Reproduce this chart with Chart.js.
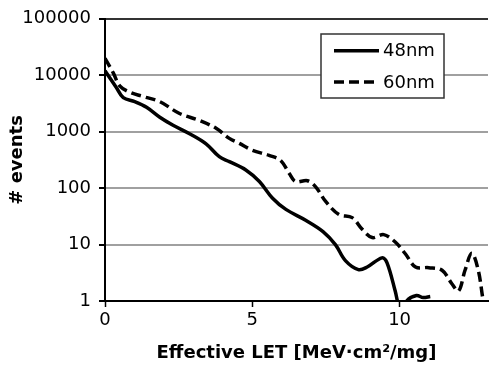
<!DOCTYPE html>
<html>
<head>
<meta charset="utf-8">
<script src="https://cdn.jsdelivr.net/npm/chart.js@4.4.1/dist/chart.umd.min.js"></script>
<style>
  html, body { margin: 0; padding: 0; background: #fff; }
  #wrap { width: 489px; height: 367px; }
</style>
</head>
<body>
<div id="wrap"><canvas id="c" width="489" height="367"></canvas></div>
<script>
// ---- data ----
const seriesLabels = ['48nm', '60nm'];
const let48 = [0, 0.39, 0.62, 1.01, 1.41, 1.86, 2.31, 2.87, 3.43, 3.88, 4.22, 4.78, 5.24, 5.68, 6.14, 6.81, 7.4, 7.82, 8.16, 8.6, 8.9, 9.4, 9.57, 9.85, 9.95, 10.1, 10.24, 10.57, 10.8, 11.04];
const events48 = [12000, 6000, 4000, 3400, 2700, 1800, 1300, 920, 610, 360, 295, 210, 131, 67, 42, 27, 17, 10, 5.2, 3.6, 4.0, 5.8, 4.8, 1.5, 0.9, 0.6, 1.0, 1.25, 1.15, 1.2];
const let60 = [0, 0.28, 0.5, 0.84, 1.29, 1.86, 2.53, 3.21, 3.77, 4.22, 4.56, 5.0, 5.57, 5.96, 6.25, 6.47, 6.87, 7.15, 7.49, 7.94, 8.39, 8.73, 9.07, 9.46, 9.86, 10.2, 10.54, 10.99, 11.44, 11.78, 12.0, 12.22, 12.45, 12.67, 12.84, 12.95];
const events60 = [20000, 11000, 6500, 5000, 4200, 3400, 2100, 1580, 1150, 760, 620, 470, 380, 310, 183, 130, 135, 105, 58, 34, 30, 18.6, 13.3, 15, 11, 6.8, 4, 3.9, 3.5, 2, 1.5, 3.5, 7, 3.5, 1, 0.6];
const xTicks = [0, 5, 10];
const yTicks = [1, 10, 100, 1000, 10000, 100000];
const xTitle = 'Effective LET [MeV·cm²/mg]';
const yTitle = '# events';

const FONT = '"DejaVu Sans", sans-serif';
Chart.defaults.font.family = FONT;
Chart.defaults.font.size = 18;
Chart.defaults.color = '#000';

const toPts = (xs, ys) => xs.map((x, i) => ({ x: x, y: ys[i] }));

const legendPlugin = {
  id: 'boxLegend',
  afterDatasetsDraw(chart) {
    const ctx = chart.ctx;
    const bx = 321, by = 34, bw = 123, bh = 64;
    ctx.save();
    ctx.fillStyle = '#fff';
    ctx.fillRect(bx, by, bw, bh);
    ctx.strokeStyle = '#333';
    ctx.lineWidth = 1.5;
    ctx.strokeRect(bx, by, bw, bh);
    chart.data.datasets.forEach((ds, i) => {
      const y = 50.7 + i * 31.3;
      ctx.beginPath();
      ctx.setLineDash(ds.borderDash || []);
      ctx.lineWidth = ds.borderWidth;
      ctx.strokeStyle = ds.borderColor;
      ctx.moveTo(334, y);
      ctx.lineTo(i === 0 ? 379 : 376, y);
      ctx.stroke();
      ctx.setLineDash([]);
      ctx.fillStyle = '#000';
      ctx.font = '18px ' + FONT;
      ctx.textBaseline = 'middle';
      ctx.textAlign = 'left';
      ctx.fillText(ds.label, 383, y + 1);
    });
    ctx.restore();
  }
};

new Chart(document.getElementById('c'), {
  type: 'line',
  data: {
    datasets: [
      {
        label: seriesLabels[0],
        data: toPts(let48, events48),
        borderColor: '#000',
        borderWidth: 3.5,
        pointRadius: 0,
        tension: 0.35,
        fill: false
      },
      {
        label: seriesLabels[1],
        data: toPts(let60, events60),
        borderColor: '#000',
        borderWidth: 3.5,
        borderDash: [10, 5],
        pointRadius: 0,
        tension: 0.35,
        fill: false
      }
    ]
  },
  options: {
    responsive: false,
    devicePixelRatio: 1,
    animation: false,
    layout: { padding: { top: 16, right: 1, left: 0, bottom: 0 } },
    plugins: { legend: { display: false }, tooltip: { enabled: false } },
    scales: {
      x: {
        type: 'linear',
        min: 0,
        max: 13,
        afterBuildTicks: (s) => { s.ticks = xTicks.map(v => ({ value: v })); },
        afterFit: (s) => { s.height = 66; },
        grid: { drawOnChartArea: false, drawTicks: true, tickLength: 6, tickColor: '#000', tickWidth: 1.5 },
        border: { display: true, color: '#000', width: 2 },
        ticks: { color: '#000', font: { family: FONT, size: 18 }, padding: 3, maxRotation: 0 },
        title: { display: true, text: xTitle, color: '#000', font: { family: FONT, size: 18, weight: 'bold' }, padding: { top: 0, bottom: 3 } }
      },
      y: {
        type: 'logarithmic',
        min: 1,
        max: 100000,
        afterBuildTicks: (s) => { s.ticks = yTicks.map(v => ({ value: v })); },
        afterFit: (s) => { s.width = 105; },
        grid: {
          color: (c) => (c.tick && c.tick.value === 100000) ? '#333' : '#a0a0a0',
          lineWidth: 2,
          drawTicks: true,
          tickLength: 6,
          tickColor: '#000'
        },
        border: { display: true, color: '#000', width: 2 },
        ticks: { color: '#000', font: { family: FONT, size: 18 }, padding: 8, callback: (v) => String(v) },
        title: { display: true, text: yTitle, color: '#000', font: { family: FONT, size: 18, weight: 'bold' }, padding: { top: 7, bottom: 0 } }
      }
    }
  },
  plugins: [legendPlugin]
});
</script>
</body>
</html>
